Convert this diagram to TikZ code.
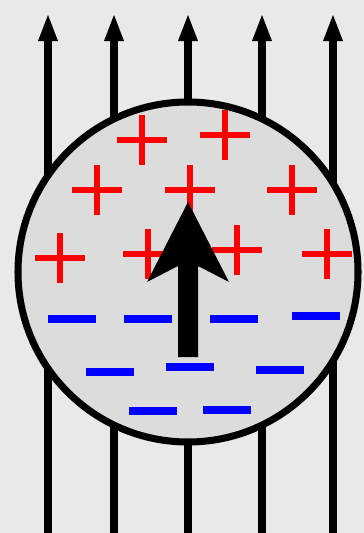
\documentclass[tikz,border=0pt]{standalone}
\usetikzlibrary{arrows.meta}

\definecolor{bggray}{HTML}{E9E9E9}
\definecolor{ballgray}{HTML}{DCDCDC}

\begin{document}
\begin{tikzpicture}[
    x=0.02cm, y=-0.02cm,
    fieldline/.style={line width=4pt, -{Triangle[length=16pt,width=10pt]}},
    outerline/.style={fieldline, line width=5pt},
    ball/.style={draw=black, fill=ballgray, line width=4pt},
    plussign/.style={draw=red, line width=3.3pt},
    minussign/.style={draw=blue, line width=5pt}
]

% background and page size
\fill[bggray] (0,0) rectangle (364,533);
\useasboundingbox (0,0) rectangle (364,533);

% field lines
\foreach \x in {114,188,262}
    \draw[fieldline] (\x,533) -- (\x,13);
\foreach \x in {48,333}
    \draw[outerline] (\x,533) -- (\x,13);

% the ball
\coordinate (ctr) at (188,272);
\draw[ball] (ctr) circle[radius=170];

% positive charges
\foreach \x/\y in {142/140, 225/135, 97/190, 190/190, 292/190,
                   60/258, 148/254, 237/250, 327/254}
    \draw[plussign] ({\x-25},\y) -- ({\x+25},\y) (\x,{\y-25}) -- (\x,{\y+25});

% negative charges
\foreach \x/\y in {72/319, 148/319, 234/319, 316/316,
                   110/372, 190/367, 280/370, 153/411, 227/410}
    \draw[minussign] ({\x-24},\y) -- ({\x+24},\y);

% dipole arrow
\coordinate (tip) at (188,202);
\coordinate (base) at (188,357);
\fill[black] (base) ++(-10,0) -- ++(0,-91) -- (147,282) -- (tip)
    -- (229,282) -- (198,266) -- (198,357) -- cycle;

\end{tikzpicture}
\end{document}
